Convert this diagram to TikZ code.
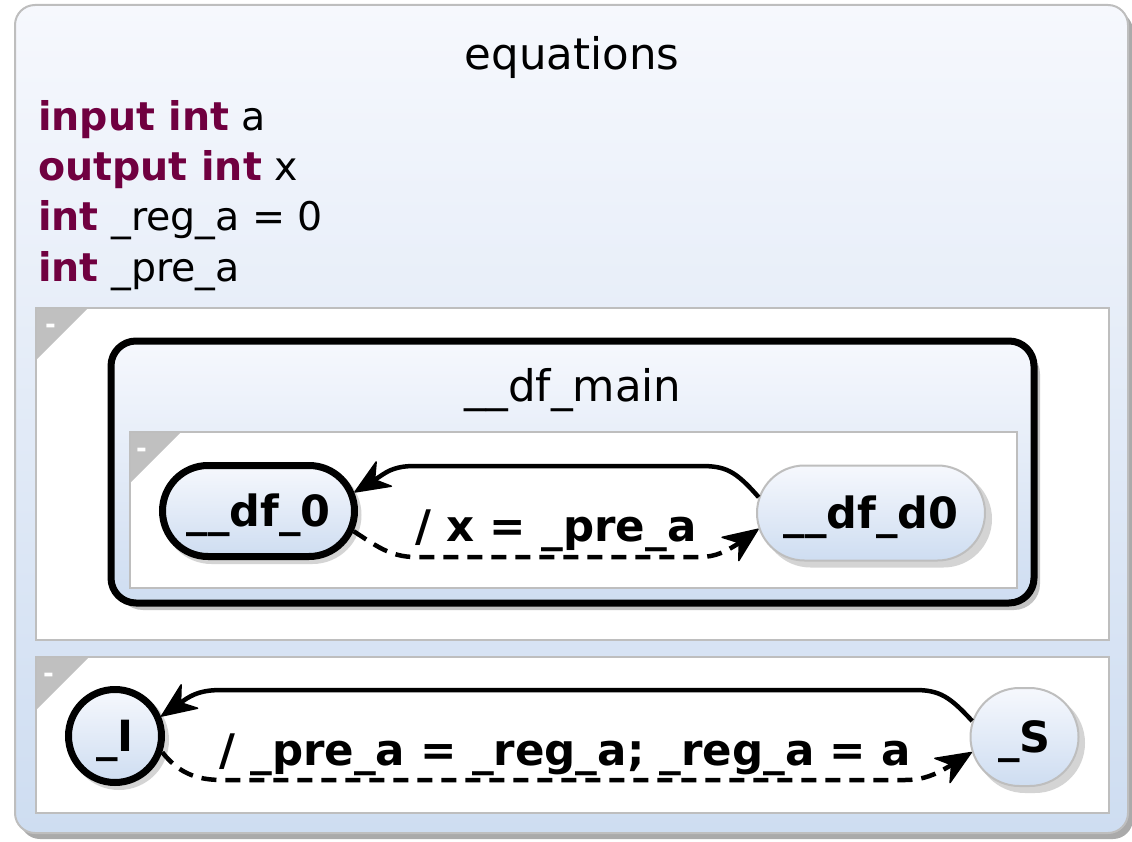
\documentclass[tikz,border=0pt]{standalone}
\usepackage{fontspec}
\setmainfont{DejaVu Sans}
\usetikzlibrary{arrows.meta,shapes.misc}
\definecolor{kw}{RGB}{112,0,64}
\definecolor{gtop}{RGB}{246,248,253}
\definecolor{gbot}{RGB}{206,221,241}
\definecolor{regline}{RGB}{190,190,190}
\definecolor{trifill}{RGB}{192,192,192}
\definecolor{shadowc}{RGB}{170,170,170}
\tikzset{
  gradfill/.style={top color=gtop, bottom color=gbot},
  regionbox/.style={draw=regline, line width=2pt, fill=white},
  corner/.style={fill=trifill},
  dashlabel/.style={anchor=base west, inner sep=0pt, text=white, font=\fontsize{26pt}{26pt}\selectfont\bfseries},
  titletext/.style={anchor=base, inner sep=0pt, font=\fontsize{43.5pt}{50pt}\selectfont},
  decltext/.style={anchor=base west, inner sep=0pt, font=\fontsize{39.5pt}{48pt}\selectfont},
  statenode/.style={rounded rectangle, gradfill, inner sep=0pt, text height=33pt, text depth=2pt,
    font=\fontsize{43pt}{50pt}\selectfont\bfseries},
  boldstate/.style={statenode, draw=black, line width=7pt},
  plainstate/.style={statenode, draw=regline, line width=2pt},
  stateshadow/.style={rounded rectangle, fill=shadowc, opacity=0.5, draw=none, inner sep=0pt},
  trans/.style={line width=4.5pt, >={Stealth[length=38pt, width=32pt, inset=12pt, line width=1.5pt, round]}, ->},
  dashtrans/.style={trans, dash pattern=on 15pt off 9pt},
  edgelabel/.style={anchor=base, inner sep=0pt, font=\fontsize{43.5pt}{50pt}\selectfont\bfseries},
  sizedfzero/.style={minimum width=192pt, minimum height=91pt},
  sizedfdzero/.style={minimum width=228pt, minimum height=95pt},
  sizeI/.style={minimum width=93pt, minimum height=93pt},
  sizeS/.style={minimum width=108pt, minimum height=98pt},
}
\begin{document}
\begin{tikzpicture}[x=1pt,y=-1pt]
\useasboundingbox (0,0) rectangle (1132,842);
% outer equations region
\fill[shadowc, rounded corners=20pt] (20,11) rectangle (1133,839);
\draw[draw=regline, line width=2pt, rounded corners=20pt, gradfill] (15,5) rectangle (1128,833);
\node[titletext] (eqtitle) at (572,70) {equations};
\node[decltext] (decl1) at (38,131) {\textcolor{kw}{\bfseries input int} a};
\node[decltext] (decl2) at (38,181) {\textcolor{kw}{\bfseries output int} x};
\node[decltext] (decl3) at (38,231) {\textcolor{kw}{\bfseries int} \_reg\_a = 0};
\node[decltext] (decl4) at (38,281) {\textcolor{kw}{\bfseries int} \_pre\_a};

% region 1
\draw[regionbox] (36,308) rectangle (1109,640);
\fill[corner] (37,309) -- (87,309) -- (37,359) -- cycle;
\node[dashlabel] (reg1dash) at (45,333) {-};

% __df_main superstate
\fill[shadowc, opacity=0.7, rounded corners=26pt] (117,348) rectangle (1040,610);
\draw[line width=7pt, rounded corners=25pt, gradfill] (111,341) rectangle (1034,603);
\node[titletext] (dfmaintitle) at (573,401) {\_\_df\_main};
\draw[regionbox] (130,432) rectangle (1017,588);
\fill[corner] (131,433) -- (180,433) -- (131,482) -- cycle;
\node[dashlabel] (reg3dash) at (136,457) {-};

% states of __df_main
\node[stateshadow, sizedfzero, minimum width=199pt, minimum height=98pt] (df0s) at (262,515) {};
\node[stateshadow, sizedfdzero, minimum width=230pt, minimum height=97pt] (dfd0s) at (877,519) {};
\node[boldstate, sizedfzero] (df0) at (258.5,511) {\_\_df\_0};
\node[plainstate, sizedfdzero] (dfd0) at (871,513) {\_\_df\_d0};

\draw[trans] (dfd0.172) .. controls (735,470) and (725,466) .. (700,466) -- (415,466)
  .. controls (397,466) and (389,470) .. (379,477) -- (df0.11);
\draw[dashtrans] (df0.-12) .. controls (375,545) and (390,557) .. (415,557) -- (700,557)
  .. controls (716,557) and (726,551) .. (736,545) -- (dfd0.188);
\node[edgelabel] (lab1) at (556,541) {/ x = \_pre\_a};

% region 2
\draw[regionbox] (36,657) rectangle (1109,813);
\fill[corner] (37,658) -- (88,658) -- (37,709) -- cycle;
\node[dashlabel] (reg2dash) at (43,682) {-};

\node[stateshadow, sizeI, minimum width=100pt, minimum height=100pt] (Is) at (119,740) {};
\node[stateshadow, sizeS, minimum width=110pt, minimum height=100pt] (Ss) at (1030,743) {};
\node[boldstate, sizeI] (I) at (115,736) {\_I};
\node[plainstate, sizeS] (S) at (1024.5,737) {\_S};

\draw[trans] (S.163) .. controls (950,697) and (940,690) .. (915,690) -- (222,690)
  .. controls (202,690) and (193,694) .. (183,701) -- (I.23);
\draw[dashtrans] (I.-19) .. controls (178,772) and (195,780) .. (222,780) -- (905,780)
  .. controls (924,780) and (936,774) .. (948,767) -- (S.196);
\node[edgelabel] (lab2) at (565,765) {/ \_pre\_a = \_reg\_a; \_reg\_a = a};
\end{tikzpicture}
\end{document}
